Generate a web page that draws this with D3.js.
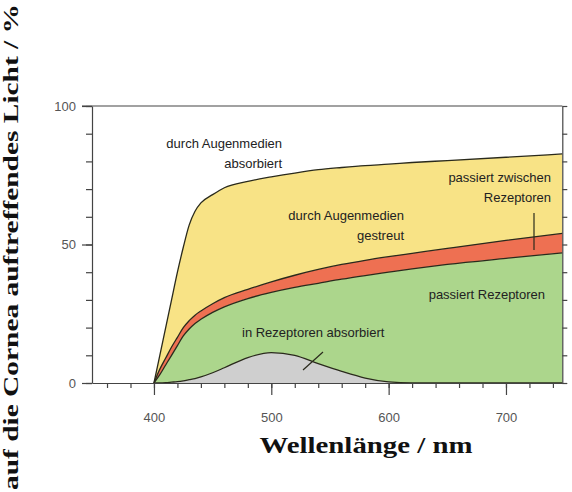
<!DOCTYPE html>
<html>
<head>
<meta charset="utf-8">
<script src="https://cdn.jsdelivr.net/npm/d3@7"></script>
<style>
  body { margin: 0; background: #fff; }
  svg { display: block; }
  .lbl { font-family: "Liberation Sans", Arial, sans-serif; font-size: 13px; fill: #222; }
  .axis text { font-family: "Liberation Sans", Arial, sans-serif; font-size: 13px; fill: #555; }
  .axis path, .axis line { stroke: #444; stroke-width: 1.2; }
</style>
</head>
<body>
<svg id="chart" width="572" height="492"></svg>
<script>
// wavelength samples (nm)
const wavelengths = [400, 405, 410, 415, 420, 425, 430, 435, 440, 450, 460, 480, 500, 520, 540, 560, 580, 600, 620, 650, 700, 748];
// upper edge: light that passes the media (rest is absorbed by the media)
const mediaPassed = [0, 10, 20, 30, 40, 49, 57, 62, 65, 68, 70.5, 72.8, 74.4, 75.8, 77, 77.8, 78.5, 79, 79.6, 80.3, 81.5, 82.7];
// below the scattered band
const notScattered = [0, 5, 9, 13, 16.5, 20, 22.5, 24.5, 26, 28.6, 30.8, 33.8, 36.5, 38.9, 41, 42.8, 44.3, 45.6, 46.8, 48.6, 51.5, 54];
// below the "passes between receptors" band
const hitsReceptors = [0, 3, 6.5, 10, 13.5, 17, 19.5, 21.5, 23, 25.5, 27.5, 30.5, 32.7, 34.5, 36, 37.5, 38.8, 40, 41.2, 42.8, 45, 47];
// absorbed in receptors
const receptorAbsorbed = [0, 0, 0.1, 0.3, 0.5, 0.8, 1.2, 1.6, 2.2, 3.7, 5.5, 9.2, 11, 10, 7, 4.2, 1.8, 0.4, 0, 0, 0, 0];

const xMajor = [400, 500, 600, 700];
const yMajor = [0, 50, 100];

const svg = d3.select('#chart');
const x = d3.scaleLinear().domain([347.2, 748]).range([92, 562.3]);
const y = d3.scaleLinear().domain([0, 100]).range([383, 106]);

const rows = wavelengths.map((w, i) => ({
  w, top: mediaPassed[i], scat: notScattered[i], rec: hitsReceptors[i], abs: receptorAbsorbed[i]
}));

const band = (hi, lo) => d3.area()
  .x(d => x(d.w))
  .y0(d => y(lo(d)))
  .y1(d => y(hi(d)))
  .curve(d3.curveMonotoneX);
const edge = f => d3.line().x(d => x(d.w)).y(d => y(f(d))).curve(d3.curveMonotoneX);

svg.append('path').datum(rows).attr('fill', '#f8e386').attr('d', band(d => d.top, d => d.scat));
svg.append('path').datum(rows).attr('fill', '#ee7052').attr('d', band(d => d.scat, d => d.rec));
svg.append('path').datum(rows).attr('fill', '#acd68c').attr('d', band(d => d.rec, () => 0));
svg.append('path').datum(rows).attr('fill', '#cfcfcf').attr('d', band(d => d.abs, () => 0));

[d => d.top, d => d.scat, d => d.rec, d => d.abs].forEach(f => {
  svg.append('path').datum(rows)
    .attr('fill', 'none').attr('stroke', '#2a2a1c').attr('stroke-width', 1.3)
    .attr('d', edge(f));
});

// frame
svg.append('line').attr('x1', 82).attr('x2', 562.3).attr('y1', y(100)).attr('y2', y(100))
  .attr('stroke', '#444').attr('stroke-width', 1.2);

const ax = (g, a) => svg.append('g').attr('class', 'axis').attr('transform', g).call(a);

ax(`translate(0,${y(0)})`, d3.axisBottom(x).tickValues(d3.range(360, 741, 20)).tickSize(5).tickFormat('').tickSizeOuter(0));
ax(`translate(0,${y(0)})`, d3.axisBottom(x).tickValues(xMajor).tickSize(12).tickPadding(18).tickSizeOuter(0));
ax('translate(92,0)', d3.axisLeft(y).tickValues(d3.range(0, 101, 10)).tickSize(6).tickFormat('').tickSizeOuter(0));
ax('translate(92,0)', d3.axisLeft(y).tickValues(yMajor).tickSize(10).tickPadding(6).tickSizeOuter(0));
ax('translate(562.3,0)', d3.axisRight(y).tickValues(d3.range(0, 101, 10)).tickSize(5).tickFormat('').tickSizeOuter(0));
svg.selectAll('.axis .domain').filter((d, i) => i % 2 === 1).remove();

// region labels
const label = (txt, px, py, anchor) => svg.append('text').attr('class', 'lbl')
  .attr('x', px).attr('y', py).attr('text-anchor', anchor || 'start').text(txt);
label('durch Augenmedien', 282, 148, 'end');
label('absorbiert', 282, 168, 'end');
label('durch Augenmedien', 404, 220, 'end');
label('gestreut', 404, 240, 'end');
label('passiert zwischen', 551, 182, 'end');
label('Rezeptoren', 551, 202, 'end');
label('passiert Rezeptoren', 545, 299, 'end');
label('in Rezeptoren absorbiert', 242, 337);

svg.append('line').attr('x1', 534).attr('x2', 534).attr('y1', 213).attr('y2', 250)
  .attr('stroke', '#2a2a1c').attr('stroke-width', 1.2);
svg.append('line').attr('x1', 323).attr('x2', 303).attr('y1', 352).attr('y2', 370)
  .attr('stroke', '#2a2a1c').attr('stroke-width', 1.2);

// axis titles
svg.append('text')
  .attr('x', 366).attr('y', 453).attr('text-anchor', 'middle')
  .attr('textLength', 213).attr('lengthAdjust', 'spacingAndGlyphs')
  .style('font-family', '"Liberation Serif", "DejaVu Serif", serif')
  .style('font-weight', 'bold').style('font-size', '24px').style('fill', '#111')
  .text('Wellenlänge / nm');

svg.append('text')
  .attr('transform', 'translate(18,247) rotate(-90)')
  .attr('text-anchor', 'middle')
  .attr('textLength', 486).attr('lengthAdjust', 'spacingAndGlyphs')
  .style('font-family', '"Liberation Serif", "DejaVu Serif", serif')
  .style('font-weight', 'bold').style('font-size', '21px').style('fill', '#111')
  .text('auf die Cornea auftreffendes Licht / %');
</script>
</body>
</html>
